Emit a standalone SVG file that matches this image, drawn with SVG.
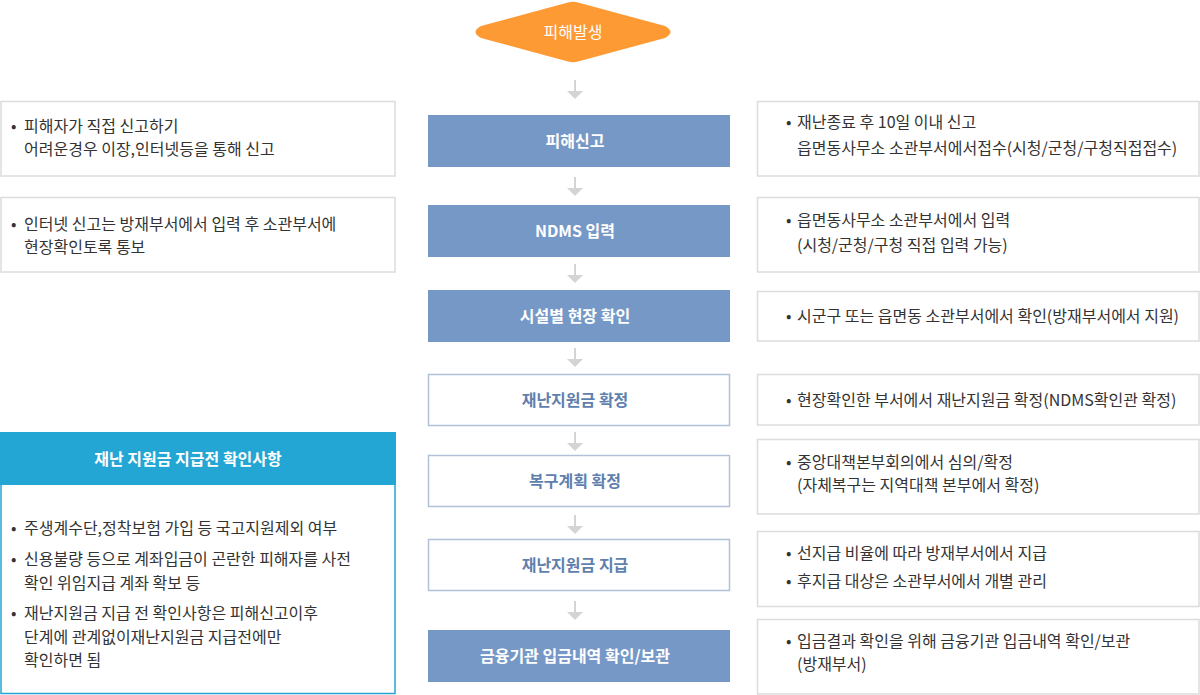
<svg xmlns="http://www.w3.org/2000/svg" width="1200" height="695" viewBox="0 0 1200 695">
<style>
text{font-family:"Malgun Gothic","Noto Sans CJK KR","Noto Sans",sans-serif;}
.side{fill:#fff;stroke:#dcdcdc;stroke-width:1.5;}
.st{font-size:16px;fill:#333;}
.fill{fill:#7698c6;}
.out{fill:#fff;stroke:#b1c1d8;stroke-width:1.5;}
.ft{font-size:16px;font-weight:bold;fill:#fff;text-anchor:middle;}
.ot{font-size:16px;font-weight:bold;fill:#5f7fae;text-anchor:middle;}
</style>
<defs>
<g id="ah"><line x1="0" y1="0" x2="0" y2="12" stroke="#d4d4d4" stroke-width="2"/><path d="M-8,11 L8,11 L0,19 Z" fill="#d4d4d4"/></g>
</defs>

<g id="start">
<path d="M481,26 L568,2.5 Q573,1 578,2.5 L665,26 Q676,32 665,38 L578,61.5 Q573,63 568,61.5 L481,38 Q470,32 481,26 Z" fill="#fe9a33"/>
<text x="573" y="37.5" font-size="16" fill="#fff" text-anchor="middle">피해발생</text>
</g>

<g id="connectors">
<use href="#ah" x="575" y="80"/>
<use href="#ah" x="575" y="177"/>
<use href="#ah" x="575" y="264"/>
<use href="#ah" x="575" y="348"/>
<use href="#ah" x="575" y="432"/>
<use href="#ah" x="575" y="515"/>
<use href="#ah" x="575" y="601"/>
</g>

<g id="step1"><rect class="fill" x="428" y="115" width="302" height="52"/><text class="ft" x="575" y="146.5">피해신고</text></g>
<g id="step2"><rect class="fill" x="428" y="205" width="302" height="52"/><text class="ft" x="575" y="236.5">NDMS 입력</text></g>
<g id="step3"><rect class="fill" x="428" y="290" width="302" height="52"/><text class="ft" x="575" y="321.5">시설별 현장 확인</text></g>
<g id="step4"><rect class="out" x="428.5" y="374.5" width="301" height="51"/><text class="ot" x="575" y="405.5">재난지원금 확정</text></g>
<g id="step5"><rect class="out" x="428.5" y="455.5" width="301" height="51"/><text class="ot" x="575" y="486.5">복구계획 확정</text></g>
<g id="step6"><rect class="out" x="428.5" y="539.5" width="301" height="51"/><text class="ot" x="575" y="570.5">재난지원금 지급</text></g>
<g id="step7"><rect class="fill" x="428" y="630" width="302" height="52"/><text class="ft" x="575" y="661.5">금융기관 입금내역 확인/보관</text></g>

<g id="left1"><rect class="side" x="1" y="101.5" width="394" height="74.5"/>
<text class="st" x="11" y="132">•</text><text class="st" x="24" y="132">피해자가 직접 신고하기</text>
<text class="st" x="24" y="155">어려운경우 이장,인터넷등을 통해 신고</text></g>
<g id="left2"><rect class="side" x="1" y="197.5" width="394" height="74.5"/>
<text class="st" x="11" y="230">•</text><text class="st" x="24" y="230">인터넷 신고는 방재부서에서 입력 후 소관부서에</text>
<text class="st" x="24" y="253">현장확인토록 통보</text></g>

<g id="checklist">
<rect x="1" y="484" width="394" height="209.5" fill="#fff" stroke="#23a6d3" stroke-width="1.5"/>
<rect x="0" y="432" width="396" height="53" fill="#23a6d3"/>
<text x="188" y="464.5" font-size="16" font-weight="bold" fill="#fff" text-anchor="middle">재난 지원금 지급전 확인사항</text>
<text class="st" x="11" y="534">•</text><text class="st" x="24" y="534">주생계수단,정착보험 가입 등 국고지원제외 여부</text>
<text class="st" x="11" y="565">•</text><text class="st" x="24" y="565">신용불량 등으로 계좌입금이 곤란한 피해자를 사전</text>
<text class="st" x="24" y="589">확인 위임지급 계좌 확보 등</text>
<text class="st" x="11" y="619">•</text><text class="st" x="24" y="619">재난지원금 지급 전 확인사항은 피해신고이후</text>
<text class="st" x="24" y="643">단계에 관계없이재난지원금 지급전에만</text>
<text class="st" x="24" y="666">확인하면 됨</text>
</g>

<g id="right1"><rect class="side" x="757.5" y="101.5" width="441.5" height="74.5"/>
<text class="st" x="786" y="128">•</text><text class="st" x="797" y="128">재난종료 후 10일 이내 신고</text>
<text class="st" x="797" y="153.5">읍면동사무소 소관부서에서접수(시청/군청/구청직접접수)</text></g>
<g id="right2"><rect class="side" x="757.5" y="197.5" width="441.5" height="74.5"/>
<text class="st" x="786" y="225.5">•</text><text class="st" x="797" y="225.5">읍면동사무소 소관부서에서 입력</text>
<text class="st" x="797" y="250.5">(시청/군청/구청 직접 입력 가능)</text></g>
<g id="right3"><rect class="side" x="757.5" y="291.5" width="441.5" height="49.5"/>
<text class="st" x="786" y="321.5">•</text><text class="st" x="797" y="321.5">시군구 또는 읍면동 소관부서에서 확인(방재부서에서 지원)</text></g>
<g id="right4"><rect class="side" x="757.5" y="374.5" width="441.5" height="50.5"/>
<text class="st" x="786" y="405.5">•</text><text class="st" x="797" y="405.5">현장확인한 부서에서 재난지원금 확정(NDMS확인관 확정)</text></g>
<g id="right5"><rect class="side" x="757.5" y="439.5" width="441.5" height="74.5"/>
<text class="st" x="786" y="467.5">•</text><text class="st" x="797" y="467.5">중앙대책본부회의에서 심의/확정</text>
<text class="st" x="797" y="491">(자체복구는 지역대책 본부에서 확정)</text></g>
<g id="right6"><rect class="side" x="757.5" y="531.5" width="441.5" height="75"/>
<text class="st" x="786" y="558.5">•</text><text class="st" x="797" y="558.5">선지급 비율에 따라 방재부서에서 지급</text>
<text class="st" x="786" y="586.5">•</text><text class="st" x="797" y="586.5">후지급 대상은 소관부서에서 개별 관리</text></g>
<g id="right7"><rect class="side" x="757.5" y="619.5" width="441.5" height="74.5"/>
<text class="st" x="786" y="646.5">•</text><text class="st" x="797" y="646.5">입금결과 확인을 위해 금융기관 입금내역 확인/보관</text>
<text class="st" x="797" y="669.5">(방재부서)</text></g>
</svg>
